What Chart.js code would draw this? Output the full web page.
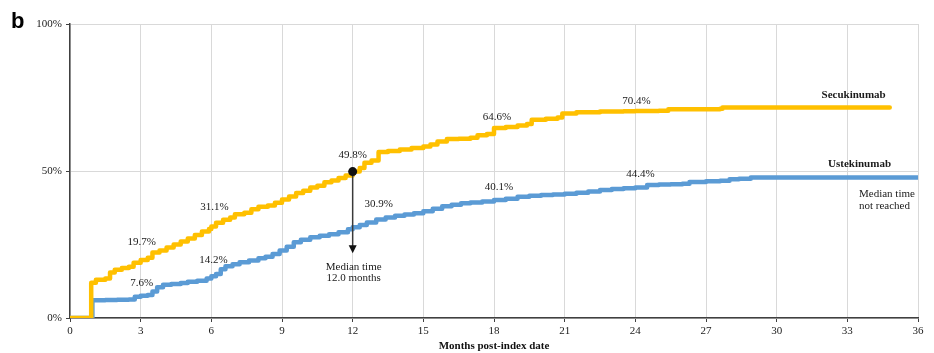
<!DOCTYPE html>
<html>
<head>
<meta charset="utf-8">
<script src="https://cdn.jsdelivr.net/npm/chart.js@4/dist/chart.umd.min.js"></script>
<style>
  html, body { margin: 0; padding: 0; background: #ffffff; }
  canvas { display: block; }
</style>
</head>
<body>
<canvas id="chart" width="934" height="353"></canvas>
<script>
// Cumulative proportion of patients (%) by months after the index date
const secMonths = [0, 0.9, 1.1, 1.5, 1.7, 1.9, 2.2, 2.5, 2.7, 3.0, 3.3, 3.5, 3.8, 4.1, 4.4, 4.7, 5.0, 5.3, 5.6, 5.9,
  6.0, 6.2, 6.5, 6.8, 7.0, 7.4, 7.7, 8.0, 8.4, 8.7, 9.0, 9.3, 9.6, 9.9, 10.2, 10.5, 10.8, 11.1, 11.4, 11.7,
  12.0, 12.3, 12.5, 12.8, 13.1, 13.5, 14.0, 14.5, 15.0, 15.3, 15.6, 16.0, 16.5, 17.0, 17.3, 17.7, 18.0,
  18.5, 19.0, 19.4, 19.6, 20.2, 20.7, 20.9, 21.5, 22.5, 23.5, 24.0, 25.0, 25.4, 27.6, 27.7, 34.8];
const secValues = [0, 12.0, 13.0, 13.4, 15.5, 16.4, 17.0, 17.4, 18.8, 19.7, 20.5, 22.3, 23.0, 24.0, 25.0, 26.0, 27.0, 28.2, 29.4, 30.3,
  31.1, 32.4, 33.4, 34.2, 35.3, 35.8, 37.0, 37.8, 38.3, 39.2, 40.3, 41.3, 42.5, 43.3, 44.4, 45.0, 46.2, 46.8, 47.6, 48.5,
  49.8, 51.0, 52.8, 53.6, 56.5, 56.8, 57.3, 57.8, 58.3, 59.0, 60.0, 60.9, 61.0, 61.3, 62.2, 62.6, 64.6,
  65.0, 65.5, 66.0, 67.4, 67.8, 68.2, 69.6, 70.0, 70.2, 70.3, 70.4, 70.5, 71.0, 71.2, 71.6, 71.6];

const ustMonths = [0, 0.95, 1.5, 2.0, 2.5, 2.75, 3.0, 3.3, 3.5, 3.7, 3.95, 4.3, 4.7, 5.0, 5.4, 5.8,
  6.0, 6.2, 6.4, 6.6, 6.9, 7.2, 7.6, 8.0, 8.3, 8.6, 8.9, 9.2, 9.5, 9.8, 10.2, 10.6, 11.0, 11.4, 11.8,
  12.0, 12.3, 12.6, 13.0, 13.4, 13.8, 14.2, 14.6, 15.0, 15.4, 15.8, 16.2, 16.6, 17.0, 17.5,
  18.0, 18.5, 19.0, 19.5, 20.0, 20.5, 21.0, 21.5, 22.0, 22.5, 23.0, 23.5,
  24.0, 24.5, 25.0, 25.5, 26.0, 26.3, 27.0, 27.6, 28.0, 28.4, 28.9, 36.0];
const ustValues = [0, 6.0, 6.1, 6.2, 6.3, 7.2, 7.6, 7.8, 9.0, 10.5, 11.3, 11.6, 11.9, 12.3, 12.7, 13.4,
  14.2, 15.0, 16.6, 17.6, 18.3, 19.0, 19.6, 20.3, 20.8, 21.8, 23.0, 24.2, 25.8, 26.6, 27.5, 28.0, 28.5, 29.2, 30.2,
  30.9, 31.6, 32.5, 33.5, 34.2, 34.8, 35.2, 35.6, 36.3, 37.2, 38.0, 38.5, 39.0, 39.3, 39.6,
  40.1, 40.6, 41.2, 41.6, 41.8, 42.0, 42.3, 42.6, 43.0, 43.5, 43.9, 44.1,
  44.4, 45.2, 45.4, 45.5, 45.7, 46.3, 46.5, 46.7, 47.2, 47.4, 47.8, 47.8];

// Axis ticks
const monthTicks = [0, 3, 6, 9, 12, 15, 18, 21, 24, 27, 30, 33, 36];
const pctTicks = [0, 50, 100];

// Months whose value is printed next to each curve
const secLabelMonths = [3, 6, 12, 18, 24];
const ustLabelMonths = [3, 6, 12, 18, 24];
const medianMonth = 12.0;

const seriesNames = ['Secukinumab', 'Ustekinumab'];
const SERIF = "'Liberation Serif', 'Times New Roman', serif";
const SEC_COLOR = '#FFC000';
const UST_COLOR = '#5B9BD5';

// label offsets in pixels (dx, dy) relative to the labelled point
const secLabelOffsets = [[1, -18], [3, -19], [0, -16], [3, -11], [1, -10]];
const ustLabelOffsets = [[1, -13], [2, -16], [26, -23], [5, -13], [5, -13]];

function valueAt(months, values, m) {
  const i = months.indexOf(m);
  return values[i];
}

function toPoints(months, values) {
  return months.map((m, i) => ({ x: m, y: values[i] }));
}

const annotations = {
  id: 'annotations',
  afterDatasetsDraw(chart) {
    const { ctx, scales: { x, y } } = chart;
    ctx.save();
    ctx.textAlign = 'center';
    ctx.textBaseline = 'middle';
    ctx.fillStyle = '#1a1a1a';
    ctx.font = `11px ${SERIF}`;

    secLabelMonths.forEach((m, i) => {
      const v = valueAt(secMonths, secValues, m);
      const [dx, dy] = secLabelOffsets[i];
      ctx.fillText(v.toFixed(1) + '%', x.getPixelForValue(m) + dx, y.getPixelForValue(v) + dy);
    });
    ustLabelMonths.forEach((m, i) => {
      const v = valueAt(ustMonths, ustValues, m);
      const [dx, dy] = ustLabelOffsets[i];
      ctx.fillText(v.toFixed(1) + '%', x.getPixelForValue(m) + dx, y.getPixelForValue(v) + dy);
    });

    // median time marker for secukinumab
    const mv = valueAt(secMonths, secValues, medianMonth);
    const mx = x.getPixelForValue(medianMonth);
    const my = y.getPixelForValue(mv);
    const tipY = y.getPixelForValue(22);
    ctx.strokeStyle = '#3a3a3a';
    ctx.lineWidth = 1.5;
    ctx.beginPath();
    ctx.moveTo(mx, my);
    ctx.lineTo(mx, tipY - 7);
    ctx.stroke();
    ctx.fillStyle = '#111111';
    ctx.beginPath();
    ctx.moveTo(mx - 4, tipY - 8);
    ctx.lineTo(mx + 4, tipY - 8);
    ctx.lineTo(mx, tipY);
    ctx.closePath();
    ctx.fill();
    ctx.beginPath();
    ctx.arc(mx, my, 4.5, 0, Math.PI * 2);
    ctx.fill();

    ctx.fillStyle = '#1a1a1a';
    ctx.font = `11px ${SERIF}`;
    ctx.fillText('Median time', mx + 1, tipY + 14);
    ctx.fillText(medianMonth.toFixed(1) + ' months', mx + 1, tipY + 25);

    // series names at the right end of each curve
    ctx.font = `bold 11px ${SERIF}`;
    ctx.textAlign = 'right';
    const secEnd = secMonths[secMonths.length - 1];
    const secEndV = secValues[secValues.length - 1];
    ctx.fillText(seriesNames[0], x.getPixelForValue(secEnd) - 4, y.getPixelForValue(secEndV) - 12);
    const ustEnd = ustMonths[ustMonths.length - 1];
    const ustEndV = ustValues[ustValues.length - 1];
    ctx.fillText(seriesNames[1], x.getPixelForValue(ustEnd) - 27, y.getPixelForValue(ustEndV) - 13);

    ctx.font = `11px ${SERIF}`;
    ctx.textAlign = 'left';
    const nx = x.getPixelForValue(ustEnd) - 59;
    const ny = y.getPixelForValue(ustEndV);
    ctx.fillText('Median time', nx, ny + 17);
    ctx.fillText('not reached', nx, ny + 29);

    // panel letter
    ctx.font = "bold 22px 'Liberation Sans', Arial, sans-serif";
    ctx.textBaseline = 'alphabetic';
    ctx.fillStyle = '#000000';
    ctx.fillText('b', 11, 28);
    ctx.restore();
  }
};

new Chart(document.getElementById('chart'), {
  type: 'line',
  data: {
    datasets: [
      {
        label: seriesNames[0],
        data: toPoints(secMonths, secValues),
        borderColor: SEC_COLOR,
        backgroundColor: SEC_COLOR,
        borderWidth: 4.5,
        stepped: true,
        pointRadius: 0,
        borderCapStyle: 'round',
        borderJoinStyle: 'round',
        fill: false
      },
      {
        label: seriesNames[1],
        data: toPoints(ustMonths, ustValues),
        borderColor: UST_COLOR,
        backgroundColor: UST_COLOR,
        borderWidth: 4.5,
        stepped: true,
        pointRadius: 0,
        borderCapStyle: 'round',
        borderJoinStyle: 'round',
        fill: false
      }
    ]
  },
  options: {
    responsive: false,
    animation: false,
    devicePixelRatio: 1,
    layout: { padding: { top: 24, right: 16, left: 0, bottom: 0 } },
    plugins: {
      legend: { display: false },
      tooltip: { enabled: false }
    },
    scales: {
      x: {
        type: 'linear',
        min: 0,
        max: 36,
        afterBuildTicks: (scale) => { scale.ticks = monthTicks.map(v => ({ value: v })); },
        afterFit: (scale) => { scale.height = 35; },
        ticks: {
          color: '#1a1a1a',
          font: { family: SERIF, size: 11 },
          padding: 3,
          maxRotation: 0,
          callback: (v) => String(v)
        },
        grid: { color: '#d9d9d9', lineWidth: 1, tickLength: 4, tickColor: '#404040', tickWidth: 1 },
        border: { color: '#404040', width: 1.5 },
        title: {
          display: true,
          text: 'Months post-index date',
          color: '#111111',
          font: { family: SERIF, size: 11, weight: 'bold' },
          padding: { top: 0, bottom: 0 }
        }
      },
      y: {
        type: 'linear',
        min: 0,
        max: 100,
        afterBuildTicks: (scale) => { scale.ticks = pctTicks.map(v => ({ value: v })); },
        afterFit: (scale) => { scale.width = 70; },
        ticks: {
          color: '#1a1a1a',
          font: { family: SERIF, size: 11 },
          padding: 4,
          callback: (v) => v + '%'
        },
        grid: { color: '#d9d9d9', lineWidth: 1, tickLength: 4, tickColor: '#404040', tickWidth: 1 },
        border: { color: '#404040', width: 1.5 }
      }
    }
  },
  plugins: [annotations]
});
</script>
</body>
</html>
